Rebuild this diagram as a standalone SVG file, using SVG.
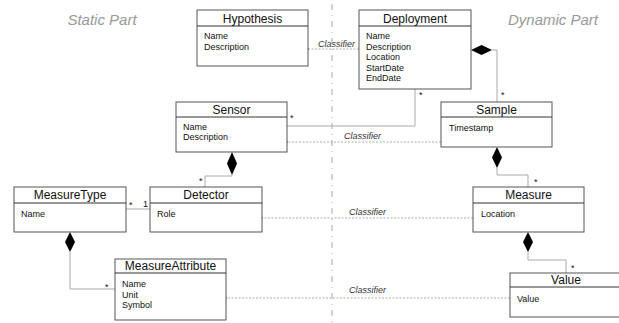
<svg xmlns="http://www.w3.org/2000/svg" width="619" height="323" viewBox="0 0 619 323">
<defs>
<style>
.box{fill:#fff;stroke:#555;stroke-width:1}
.hdr{stroke:#333;stroke-width:1}
.title{font-family:"Liberation Sans",Arial,sans-serif;font-size:12px;fill:#111;text-anchor:middle}
.attr{font-family:"Liberation Sans",Arial,sans-serif;font-size:9px;fill:#111}
.part{font-family:"Liberation Sans",Arial,sans-serif;font-size:15px;font-style:italic;fill:#999;text-anchor:middle}
.lbl{font-family:"Liberation Sans",Arial,sans-serif;font-size:9px;font-style:italic;fill:#333}
.mult{font-family:"Liberation Sans",Arial,sans-serif;font-size:9px;fill:#111}
.conn{fill:none;stroke:#aaa;stroke-width:1}
.cls{fill:none;stroke:#999;stroke-width:0.8;stroke-dasharray:2 1.5}
.dia{fill:#000;stroke:none}
</style>
<marker id="open" viewBox="0 0 8 8" refX="1" refY="4" markerWidth="8" markerHeight="8" markerUnits="userSpaceOnUse" orient="auto-start-reverse">
<path d="M7,0.5 L1,4 L7,7.5" fill="none" stroke="#888" stroke-width="1"/>
</marker>
</defs>
<rect width="619" height="323" fill="#fff"/>

<line x1="332" y1="4" x2="332" y2="323" stroke="#aaa" stroke-width="1" stroke-dasharray="6 5 1 5"/>
<text class="part" x="102" y="25">Static Part</text>
<text class="part" x="553" y="25">Dynamic Part</text>

<g id="connectors">
<path class="conn" d="M492,50 H497 V102"/>
<polygon class="dia" points="471,50 481.5,45 492,50 481.5,55"/>
<text class="mult" x="501" y="98">*</text>
<path class="conn" d="M415,89 V126 H287"/>
<text class="mult" x="419" y="98">*</text>
<text class="mult" x="290" y="121">*</text>
<path class="conn" d="M232,175 V176 H205 V187"/>
<polygon class="dia" points="232,152 237,163.5 232,175 227,163.5"/>
<text class="mult" x="199" y="184">*</text>
<path class="conn" d="M126,209 H150"/>
<text class="mult" x="129" y="208">*</text>
<text class="mult" x="143" y="207">1</text>
<path class="conn" d="M70,252 V289 H115"/>
<polygon class="dia" points="70,232 75,242 70,252 65,242"/>
<text class="mult" x="105" y="290">*</text>
<path class="conn" d="M497,168 V175 H528 V187"/>
<polygon class="dia" points="497,147 502,157.5 497,168 492,157.5"/>
<text class="mult" x="534" y="185">*</text>
<path class="conn" d="M528,252 V260 H566 V273"/>
<polygon class="dia" points="528,232 533,242 528,252 523,242"/>
<text class="mult" x="571" y="271">*</text>

<path class="cls" d="M359,49 H309" marker-end="url(#open)"/>
<text class="lbl" x="318" y="46.5">Classifier</text>
<path class="cls" d="M441,142 H288" marker-end="url(#open)"/>
<text class="lbl" x="344" y="139">Classifier</text>
<path class="cls" d="M473,218 H263" marker-end="url(#open)"/>
<text class="lbl" x="349" y="215">Classifier</text>
<path class="cls" d="M510,298 H227" marker-end="url(#open)"/>
<text class="lbl" x="349" y="293">Classifier</text>
</g>

<g id="hypothesis">
<rect class="box" x="197" y="10" width="111" height="56"/>
<line class="hdr" x1="197" y1="26" x2="308" y2="26"/>
<text class="title" x="252.5" y="22.5">Hypothesis</text>
<text class="attr" x="204" y="39">Name</text>
<text class="attr" x="204" y="49.5">Description</text>
</g>

<g id="deployment">
<rect class="box" x="359" y="10" width="112" height="79"/>
<line class="hdr" x1="359" y1="26" x2="471" y2="26"/>
<text class="title" x="415" y="22.5">Deployment</text>
<text class="attr" x="366" y="39">Name</text>
<text class="attr" x="366" y="49.5">Description</text>
<text class="attr" x="366" y="60">Location</text>
<text class="attr" x="366" y="70.5">StartDate</text>
<text class="attr" x="366" y="81">EndDate</text>
</g>

<g id="sensor">
<rect class="box" x="176" y="102" width="111" height="50"/>
<line class="hdr" x1="176" y1="117" x2="287" y2="117"/>
<text class="title" x="231.5" y="114">Sensor</text>
<text class="attr" x="183" y="129.5">Name</text>
<text class="attr" x="183" y="140">Description</text>
</g>

<g id="sample">
<rect class="box" x="441" y="102" width="111" height="45"/>
<line class="hdr" x1="441" y1="117" x2="552" y2="117"/>
<text class="title" x="496.5" y="114">Sample</text>
<text class="attr" x="449" y="130.5">Timestamp</text>
</g>

<g id="measuretype">
<rect class="box" x="14" y="187" width="112" height="45"/>
<line class="hdr" x1="14" y1="203" x2="126" y2="203"/>
<text class="title" x="70" y="199">MeasureType</text>
<text class="attr" x="21" y="217">Name</text>
</g>

<g id="detector">
<rect class="box" x="150" y="187" width="112" height="45"/>
<line class="hdr" x1="150" y1="203" x2="262" y2="203"/>
<text class="title" x="206" y="199">Detector</text>
<text class="attr" x="157" y="217">Role</text>
</g>

<g id="measure">
<rect class="box" x="473" y="187" width="111" height="45"/>
<line class="hdr" x1="473" y1="203" x2="584" y2="203"/>
<text class="title" x="528.5" y="199">Measure</text>
<text class="attr" x="481" y="217">Location</text>
</g>

<g id="measureattribute">
<rect class="box" x="115" y="259" width="111" height="61"/>
<line class="hdr" x1="115" y1="273" x2="226" y2="273"/>
<text class="title" x="170.5" y="270">MeasureAttribute</text>
<text class="attr" x="122" y="287">Name</text>
<text class="attr" x="122" y="297.5">Unit</text>
<text class="attr" x="122" y="308">Symbol</text>
</g>

<g id="value">
<rect class="box" x="510" y="273" width="112" height="44"/>
<line class="hdr" x1="510" y1="287" x2="622" y2="287"/>
<text class="title" x="566" y="284">Value</text>
<text class="attr" x="517" y="302">Value</text>
</g>
</svg>
